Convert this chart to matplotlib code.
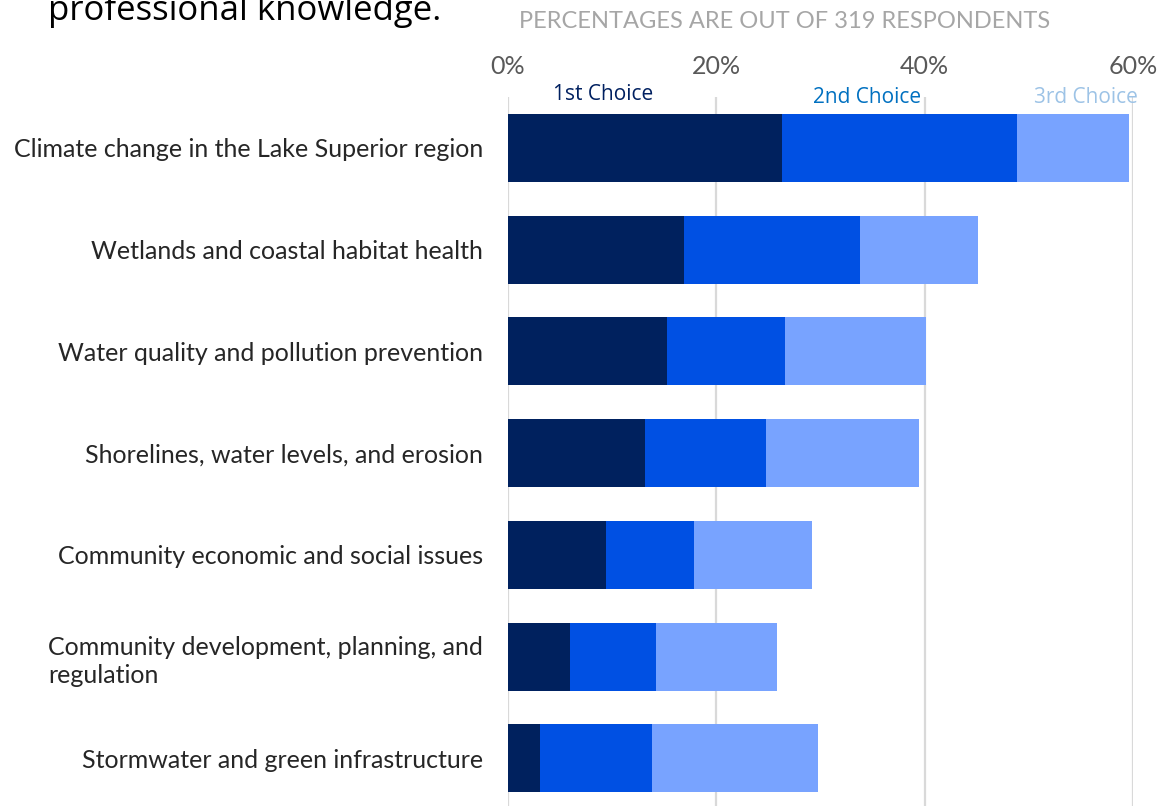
import matplotlib
matplotlib.use("Agg")
import matplotlib.pyplot as plt
from matplotlib.ticker import PercentFormatter

# Share of 319 respondents naming each topic as 1st / 2nd / 3rd choice
topics = [
    "Climate change in the Lake Superior region",
    "Wetlands and coastal habitat health",
    "Water quality and pollution prevention",
    "Shorelines, water levels, and erosion",
    "Community economic and social issues",
    "Community development, planning, and\nregulation",
    "Stormwater and green infrastructure",
]
first_choice = [26.3, 16.9, 15.3, 13.2, 9.4, 6.0, 3.1]
second_choice = [22.6, 16.9, 11.3, 11.6, 8.5, 8.2, 10.7]
third_choice = [10.7, 11.3, 13.5, 14.7, 11.3, 11.6, 16.0]
choice_names = ["1st Choice", "2nd Choice", "3rd Choice"]
choice_label_x = [9.1, 34.5, 55.5]

bar_colors = ["#00215E", "#0050E3", "#78A3FF"]
text_colors = ["#002060", "#0070C0", "#9DC3E6"]

fig = plt.figure(figsize=(11.74, 8.06), dpi=100)
ax = fig.add_axes([0.4327, -0.004, 0.5324, 0.8837])

y = list(range(len(topics)))
left = [0.0] * len(topics)
for vals, col in zip([first_choice, second_choice, third_choice], bar_colors):
    ax.barh(y, vals, left=left, height=0.67, color=col, edgecolor="none", zorder=3)
    left = [l + v for l, v in zip(left, vals)]

ax.set_xlim(0, 60)
ax.set_ylim(6.5, -0.5)
ax.set_xticks([0, 20, 40, 60])
ax.xaxis.set_major_formatter(PercentFormatter(decimals=0))
ax.xaxis.tick_top()
ax.tick_params(axis="x", length=0, pad=14, labelsize=18, labelcolor="#595959")
ax.tick_params(axis="y", length=0, pad=18, labelsize=18, labelcolor="#262626")
ax.set_yticks(y)
ax.set_yticklabels(topics)
for lab in ax.get_yticklabels() + ax.get_xticklabels():
    lab.set_fontfamily("Lato")
for lab in ax.get_yticklabels():
    lab.set_multialignment("left")
    lab.set_linespacing(1.3)

ax.grid(axis="x", color="#D9D9D9", linewidth=1.6, zorder=0)
for s in ax.spines.values():
    s.set_visible(False)

# series labels sitting just above the first bar
for name, xpos, col, dy in zip(choice_names, choice_label_x, text_colors, [-0.52, -0.49, -0.49]):
    ax.text(xpos, dy, name, color=col, fontsize=15, family="Open Sans",
            ha="center", va="center", clip_on=False, zorder=4)

fig.text(0.041, 1 - 20 / 806, "professional knowledge.", fontsize=25,
         family="Open Sans", color="#000000", ha="left", va="baseline")
fig.text(0.442, 1 - 28 / 806, "PERCENTAGES ARE OUT OF 319 RESPONDENTS",
         fontsize=17, family="Lato", color="#A6A6A6", ha="left", va="baseline")

fig.savefig("out.png", dpi=100)
